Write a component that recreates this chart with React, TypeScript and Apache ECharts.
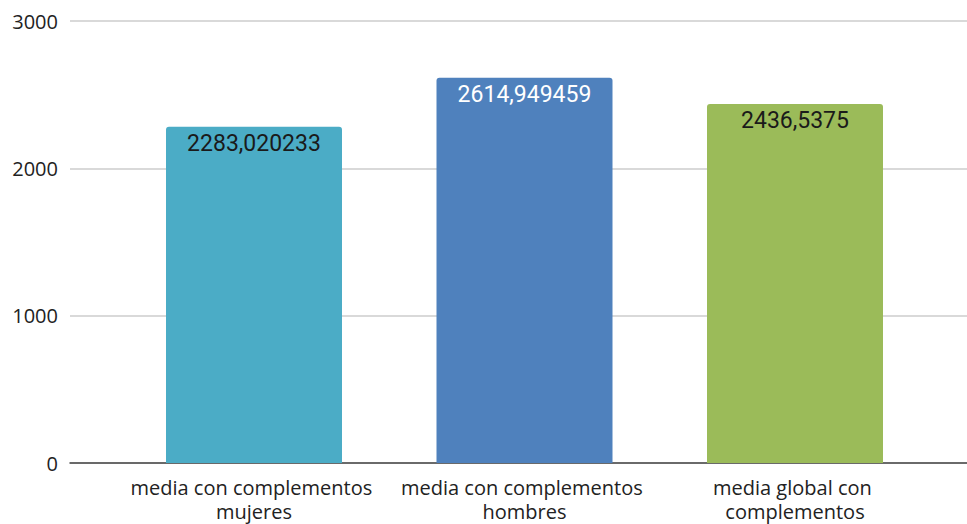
import React, { useEffect, useRef } from "react";
import * as echarts from "echarts";

const categories = [
  "media con complementos mujeres",
  "media con complementos hombres",
  "media global con complementos",
];
const values = [2283.020233, 2614.949459, 2436.5375];
const valueLabels = ["2283,020233", "2614,949459", "2436,5375"];
const barColors = ["#4bacc6", "#4f81bd", "#9bbb59"];
const labelColors = ["#1a1a1a", "#ffffff", "#1a1a1a"];
const yTicks = [0, 1000, 2000, 3000];

export default function App() {
  const ref = useRef<HTMLDivElement>(null);
  useEffect(() => {
    if (!ref.current) return;
    const chart = echarts.init(ref.current, undefined, { renderer: "svg" });
    const top = 21;
    const bottom = 61;
    chart.setOption({
      animation: false,
      grid: [
        { left: 70, right: 0, top, bottom },
        { left: 118.75, right: 36.75, top, bottom },
      ],
      xAxis: [
        {
          type: "category",
          gridIndex: 0,
          data: [""],
          axisLine: { show: true, lineStyle: { color: "#444", width: 1.5 } },
          axisTick: { show: false },
          axisLabel: { show: false },
        },
        {
          type: "category",
          gridIndex: 1,
          data: categories,
          axisLine: { show: false },
          axisTick: { show: false },
          axisLabel: {
            fontFamily: "Open Sans",
            fontSize: 20,
            color: "#222",
            margin: 12,
            lineHeight: 24,
            width: 265,
            overflow: "break",
            interval: 0,
          },
        },
      ],
      yAxis: [
        {
          type: "value",
          gridIndex: 0,
          min: yTicks[0],
          max: yTicks[yTicks.length - 1],
          interval: 1000,
          axisLine: { show: false },
          axisTick: { show: false },
          splitLine: { lineStyle: { color: "#cccccc", width: 1.5 } },
          axisLabel: {
            fontFamily: "Open Sans",
            fontSize: 20,
            color: "#222",
            margin: 12,
            formatter: (v: number) => String(v),
          },
        },
        {
          type: "value",
          gridIndex: 1,
          min: yTicks[0],
          max: yTicks[yTicks.length - 1],
          interval: 1000,
          axisLine: { show: false },
          axisTick: { show: false },
          splitLine: { show: false },
          axisLabel: { show: false },
        },
      ],
      series: [
        {
          type: "bar",
          xAxisIndex: 1,
          yAxisIndex: 1,
          barWidth: 176,
          z: 3,
          data: values.map((v, i) => ({
            value: v,
            itemStyle: { color: barColors[i], borderRadius: [3, 3, 0, 0] },
            label: { color: labelColors[i] },
          })),
          label: {
            show: true,
            position: "insideTop",
            distance: 5,
            fontFamily: "Roboto",
            fontSize: 23,
            formatter: (p: any) => valueLabels[p.dataIndex],
          },
        },
      ],
    });
    return () => chart.dispose();
  }, []);
  return <div ref={ref} style={{ width: 967, height: 524, position: "absolute", left: 0, top: 0 }} />;
}
